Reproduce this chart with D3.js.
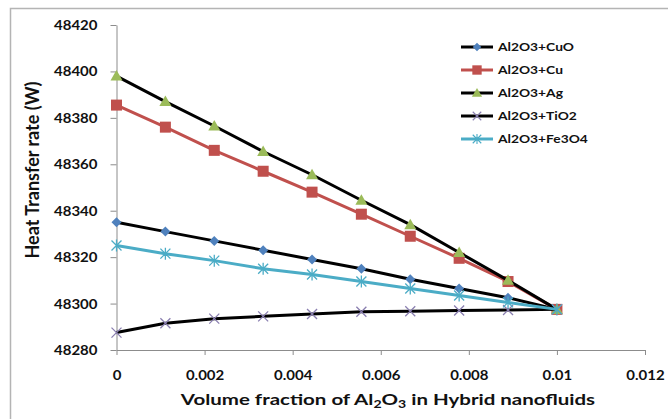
<!DOCTYPE html>
<html>
<head>
<meta charset="utf-8">
<script src="https://cdn.jsdelivr.net/npm/d3@7"></script>
<style>
  html, body { margin: 0; padding: 0; background: #fff; }
  svg { display: block; font-family: Lato, "Open Sans", sans-serif; font-weight: bold; }
</style>
</head>
<body>
<svg id="chart" width="668" height="419"></svg>
<script>
// Volume fraction of Al2O3 (x) and heat transfer rate (W) for each hybrid nanofluid
const volumeFraction = [0, 0.00111, 0.00222, 0.00333, 0.00444, 0.00556, 0.00667, 0.00778, 0.00889, 0.01];
const seriesNames = ["Al2O3+CuO", "Al2O3+Cu", "Al2O3+Ag", "Al2O3+TiO2", "Al2O3+Fe3O4"];
const heatCuO   = [48335, 48331, 48327, 48323, 48319, 48315, 48310.5, 48306.5, 48302.5, 48297.5];
const heatCu    = [48385.5, 48376, 48366, 48357, 48348, 48338.5, 48329, 48319.5, 48309.5, 48297.5];
const heatAg    = [48398, 48387, 48376.5, 48365.5, 48355.5, 48344.5, 48334, 48322, 48310, 48297.5];
const heatTiO2  = [48287.5, 48291.5, 48293.5, 48294.5, 48295.5, 48296.5, 48296.7, 48297, 48297.2, 48297.5];
const heatFe3O4 = [48325, 48321.5, 48318.5, 48315, 48312.5, 48309.5, 48306.5, 48303.5, 48300.5, 48297.5];
const yTicks = [48280, 48300, 48320, 48340, 48360, 48380, 48400, 48420];
const xTicks = [0, 0.002, 0.004, 0.006, 0.008, 0.01, 0.012];
const xTickLabels = ["0", "0.002", "0.004", "0.006", "0.008", "0.01", "0.012"];

const svg = d3.select("#chart");
const plot = { left: 116.5, right: 645, top: 25, bottom: 350 };
const stretch = 1.2; // text is drawn slightly wide

const x = d3.scaleLinear().domain([0, 0.012]).range([plot.left, plot.right]);
const y = d3.scaleLinear().domain([48280, 48420]).range([plot.bottom, plot.top]);

// chart frame
svg.append("rect")
  .attr("x", 10.5).attr("y", 8.5).attr("width", 700).attr("height", 500)
  .attr("fill", "#fff").attr("stroke", "#b4b4b4").attr("stroke-width", 1.5);

const axisColor = "#8c8c8c";

// y axis
const yAxis = svg.append("g")
  .attr("transform", `translate(${plot.left},0)`)
  .call(d3.axisLeft(y).tickValues(yTicks).tickSize(6).tickSizeOuter(0).tickFormat(d3.format("d")));
yAxis.select(".domain").attr("stroke", axisColor);
yAxis.selectAll(".tick line").attr("stroke", axisColor);
yAxis.selectAll(".tick text")
  .attr("x", 0).attr("dy", "0.36em")
  .attr("transform", `translate(-19,0) scale(${stretch},1)`)
  .attr("font-size", 12.5).attr("font-family", "Lato, sans-serif").attr("font-weight", "bold").attr("fill", "#111");

// x axis
const xAxis = svg.append("g")
  .attr("transform", `translate(0,${plot.bottom})`)
  .call(d3.axisBottom(x).tickValues(xTicks).tickSize(5).tickSizeOuter(0)
    .tickFormat((d, i) => xTickLabels[i]));
xAxis.select(".domain").attr("stroke", axisColor);
xAxis.selectAll(".tick line").attr("stroke", axisColor);
xAxis.selectAll(".tick text")
  .attr("y", 0).attr("dy", 0)
  .attr("transform", `translate(0,29.5) scale(${stretch},1)`)
  .attr("font-size", 12.5).attr("font-family", "Lato, sans-serif").attr("font-weight", "bold").attr("fill", "#111");

// axis titles
svg.append("text")
  .attr("transform", "translate(39,170) rotate(-90)")
  .attr("text-anchor", "middle")
  .attr("font-size", 18).attr("fill", "#111")
  .text("Heat Transfer rate (W)");

const xTitle = svg.append("text")
  .attr("transform", "translate(388,405) scale(1.28,1)")
  .attr("text-anchor", "middle")
  .attr("font-size", 16).attr("fill", "#111");
xTitle.append("tspan").text("Volume fraction of Al");
xTitle.append("tspan").attr("font-size", 11).attr("dy", 3).text("2");
xTitle.append("tspan").attr("dy", -3).text("O");
xTitle.append("tspan").attr("font-size", 11).attr("dy", 3).text("3");
xTitle.append("tspan").attr("dy", -3).text(" in Hybrid nanofluids");

// series styling
const series = [
  { name: seriesNames[0], values: heatCuO,   line: "#000000", marker: "diamond",  color: "#4f81bd" },
  { name: seriesNames[1], values: heatCu,    line: "#c0504d", marker: "square",   color: "#c0504d" },
  { name: seriesNames[2], values: heatAg,    line: "#000000", marker: "triangle", color: "#9bbb59" },
  { name: seriesNames[3], values: heatTiO2,  line: "#000000", marker: "cross",    color: "#8a7fb0" },
  { name: seriesNames[4], values: heatFe3O4, line: "#4bacc6", marker: "star",     color: "#4bacc6" }
];

function drawMarker(g, type, color) {
  if (type === "diamond") {
    g.append("path").attr("d", "M0,-5L5,0L0,5L-5,0Z").attr("fill", color);
  } else if (type === "square") {
    g.append("rect").attr("x", -5.5).attr("y", -5.5).attr("width", 11).attr("height", 11).attr("fill", color);
  } else if (type === "triangle") {
    g.append("path").attr("d", "M0,-6L6,4.5L-6,4.5Z").attr("fill", color);
  } else if (type === "cross") {
    g.append("path").attr("d", "M-5,-5L5,5M-5,5L5,-5").attr("stroke", color).attr("stroke-width", 1.3).attr("fill", "none");
  } else if (type === "star") {
    g.append("path").attr("d", "M-5,-5L5,5M-5,5L5,-5M0,-6L0,6").attr("stroke", color).attr("stroke-width", 1.3).attr("fill", "none");
  }
}

const line = d3.line().x((d, i) => x(volumeFraction[i])).y(d => y(d));

series.forEach(s => {
  const g = svg.append("g");
  g.append("path")
    .attr("d", line(s.values))
    .attr("fill", "none")
    .attr("stroke", s.line)
    .attr("stroke-width", 3)
    .attr("stroke-linejoin", "round");
  s.values.forEach((v, i) => {
    const m = g.append("g").attr("transform", `translate(${x(volumeFraction[i])},${y(v)})`);
    drawMarker(m, s.marker, s.color);
  });
});

// legend
const legend = svg.append("g");
series.forEach((s, i) => {
  const row = legend.append("g").attr("transform", `translate(0,${47 + i * 23})`);
  row.append("line").attr("x1", 461).attr("x2", 493).attr("y1", 0).attr("y2", 0)
    .attr("stroke", s.line).attr("stroke-width", 3);
  const m = row.append("g").attr("transform", "translate(477,0) scale(0.85)");
  drawMarker(m, s.marker, s.color);
  row.append("text")
    .attr("transform", `translate(498,4) scale(${stretch},1)`)
    .attr("font-size", 11.5).attr("fill", "#111")
    .text(s.name);
});
</script>
</body>
</html>
